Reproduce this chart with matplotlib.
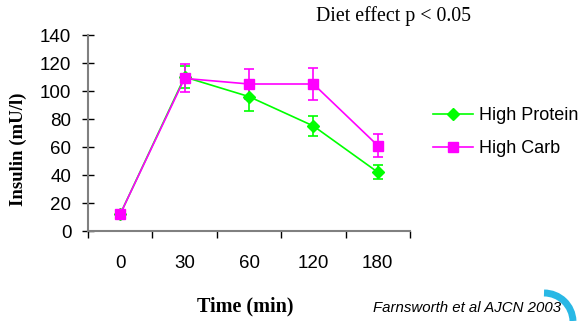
import matplotlib
matplotlib.use("Agg")
import matplotlib.pyplot as plt
from matplotlib.patches import Arc
from matplotlib.lines import Line2D

times = ["0", "30", "60", "120", "180"]
protein = [12, 110, 96, 75, 42]
protein_err = [1, 8, 10, 7, 5]
carb = [12, 109, 105, 105, 61]
carb_err = [1, 10, 11, 11.5, 8]

green = "#00FF00"
magenta = "#FF00FF"
axis_gray = "#808080"

fig = plt.figure(figsize=(5.84, 3.21), dpi=100)
ax = fig.add_axes([88/584, 1-231/321, (410-88)/584, (231-35)/321])

x = list(range(len(times)))
ax.errorbar(x, protein, yerr=protein_err, color=green, marker="D", markersize=6.5,
            lw=1.2, capsize=3.5, elinewidth=1.2, capthick=1.2)
ax.errorbar(x, carb, yerr=carb_err, color=magenta, marker="s", markersize=7.5,
            lw=1.2, capsize=3.5, elinewidth=1.2, capthick=1.2)

ax.set_xlim(-0.5, len(times) - 0.5)
ax.set_ylim(0, 140)
ax.set_yticks(range(0, 141, 20))
ax.set_xticks([i - 0.5 for i in range(len(times) + 1)], minor=False)
ax.set_xticklabels([])
ax.set_xticks(x, minor=True)
ax.set_xticklabels(times, minor=True, fontsize=13.5, family="Liberation Sans")
ax.tick_params(axis="x", which="minor", length=0, pad=17)
ax.tick_params(axis="x", which="major", direction="out", length=5, color="black", width=1)
ax.tick_params(axis="y", direction="inout", length=8, color="black", width=1, pad=8)
for lab in ax.get_yticklabels():
    lab.set_fontsize(13.5)
    lab.set_family("Liberation Sans")

for s in ["top", "right"]:
    ax.spines[s].set_visible(False)
for s in ["left", "bottom"]:
    ax.spines[s].set_color(axis_gray)
    ax.spines[s].set_linewidth(1.5)

fig.text(18/584, 1-149/321, "Insulin (mU/l)", fontsize=13.5, fontweight="bold",
         family="Liberation Serif", rotation=90, ha="center", va="center")
fig.text(245/584, 1-306/321, "Time (min)", fontsize=14.5, fontweight="bold", family="Liberation Serif",
         ha="center", va="center")

fig.text(394/584, 1-16/321, "Diet effect p < 0.05", fontsize=14.3, family="Liberation Serif",
         ha="center", va="center")
fig.text(467/584, 1-308/321, "Farnsworth et al AJCN 2003", fontsize=10.8, style="italic",
         family="Liberation Sans", ha="center", va="center")

handles = [Line2D([], [], color=green, marker="D", markersize=6.5, lw=1.2),
           Line2D([], [], color=magenta, marker="s", markersize=7.5, lw=1.2)]
fig.legend(handles, ["High Protein", "High Carb"], loc="upper left",
           bbox_to_anchor=(433/584, 1-107/321),
           frameon=False, borderpad=0, borderaxespad=0, handlelength=2.2, handletextpad=0.35,
           labelspacing=0.9, prop={"family": "Liberation Sans", "size": 13})

# little blue arc logo in the corner
lax = fig.add_axes([0, 0, 1, 1], facecolor="none")
lax.set_xlim(0, 584)
lax.set_ylim(321, 0)
lax.axis("off")
lax.add_patch(Arc((544, 322), 58, 58, theta1=270, theta2=358, color="#29B8E5", lw=5))

fig.savefig("out.png", dpi=100)
